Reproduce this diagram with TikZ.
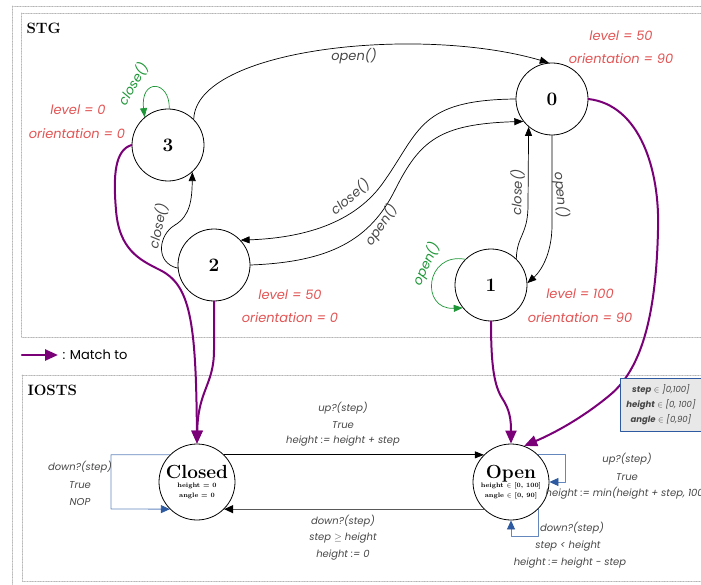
\documentclass[tikz,border=0pt]{standalone}
\usepackage{fontspec}
\setsansfont{Poppins}
\usetikzlibrary{arrows.meta,calc}
\definecolor{redlbl}{RGB}{226,84,84}
\definecolor{greenloop}{RGB}{30,150,55}
\definecolor{matchpurple}{RGB}{122,0,120}
\definecolor{loopline}{RGB}{100,135,190}
\definecolor{looptip}{RGB}{45,90,160}
\definecolor{txtgray}{RGB}{70,70,70}
\definecolor{boxgray}{RGB}{232,232,232}

\begin{document}
\begin{tikzpicture}[x=1pt,y=-1pt,line join=round,line cap=round,
	stgstate/.style={circle,draw,line width=0.8pt,minimum size=72pt,inner sep=0pt,font=\fontsize{19}{19}\selectfont\bfseries},
	iostate/.style={circle,draw,line width=0.8pt,minimum size=76pt,inner sep=0pt,align=center},
	trans/.style={line width=0.7pt,-{Triangle[length=9pt,width=7pt]}},
	match/.style={matchpurple,line width=2pt,-{Triangle[length=13pt,width=11pt]}},
	iloop/.style={loopline,line width=0.8pt,-{Triangle[length=9pt,width=8pt,color=looptip]}},
	act/.style={font=\sffamily\itshape\fontsize{13}{13}\selectfont,text=txtgray},
	varlbl/.style={font=\sffamily\itshape\fontsize{13}{13}\selectfont,text=redlbl},
	guard/.style={font=\sffamily\itshape\fontsize{10}{10}\selectfont,text=txtgray},
	boxframe/.style={gray!60,densely dotted,line width=0.6pt}]
	\path[use as bounding box,clip] (0,0) rectangle (701,585);
	% frames
	\draw[boxframe] (12,6) rectangle (720,600);
	\draw[boxframe] (21,13) rectangle (720,337);
	\draw[boxframe] (22,375) rectangle (720,581);
	\node[anchor=west,font=\fontsize{15}{15}\selectfont\bfseries] (stg) at (23,28) {STG};
	\node[anchor=west,font=\fontsize{15}{15}\selectfont\bfseries] (iosts) at (24,390) {IOSTS};
	% STG states
	\node[stgstate] (n0) at (552,99) {0};
	\node[stgstate] (n1) at (491,285) {1};
	\node[stgstate] (n2) at (214,265) {2};
	\node[stgstate] (n3) at (168,145) {3};
	\foreach \n/\x/\y/\t in {a/78/110/{level = 0},b/77/134/{orientation = 0},c/621/36/{level = 50},d/621/59/{orientation = 90},e/290/295/{level = 50},f/290/318/{orientation = 0},g/580/294/{level = 100},h/580/318/{orientation = 90}}{\node[varlbl] (v\n) at (\x,\y) {\t};}
	% STG transitions
	\draw[trans] (n3.45) .. controls (196,48) and (420,25) .. (n0.95);
	\node[act] (t30) at (354,56) {open()};
	\draw[trans,greenloop] (n3.88) .. controls (170,80) and (140,78) .. (n3.130);
	\node[act,text=greenloop,rotate=60] (t33) at (133,84) {close()};
	\draw[trans] (n2.185) .. controls (155,263) and (158,235) .. (175,225) .. controls (190,216) and (192,200) .. (n3.-48);
	\node[act,rotate=78] (t23) at (158,226) {close()};
	\draw[trans] (n0.180) .. controls (420,100) and (420,130) .. (385,180) .. controls (355,225) and (300,238) .. (n2.43);
	\node[act,rotate=40] (t02) at (350,197) {close()};
	\draw[trans] (n2.0) .. controls (330,262) and (370,240) .. (395,190) .. controls (420,140) and (440,124) .. (n0.218);
	\node[act,rotate=55] (t20) at (381,225) {open()};
	\draw[trans] (n1.46) .. controls (517,235) and (528,235) .. (528,205) -- (n0.230);
	\node[act,rotate=88] (t10) at (517,192) {close()};
	\draw[trans] (n0.-90) -- (552,225) .. controls (552,255) and (540,272) .. (n1.3);
	\node[act,rotate=-85] (t01) at (561,195) {open()};
	\draw[trans,greenloop] (n1.135) .. controls (425,252) and (420,310) .. (n1.219);
	\node[act,text=greenloop,rotate=65] (t11) at (426,264) {open()};
	% IOSTS states
	\node[iostate] (closed) at (197,482) {{\fontsize{19}{19}\selectfont\bfseries Closed}\\[-3pt]{\fontsize{6.5}{7}\selectfont\bfseries height = 0}\\[-2pt]{\fontsize{6.5}{7}\selectfont\bfseries angle = 0}};
	\node[iostate] (open) at (511,482) {{\fontsize{19}{19}\selectfont\bfseries Open}\\[-3pt]{\fontsize{6.5}{7}\selectfont\bfseries height $\in$ [0, 100]}\\[-2pt]{\fontsize{6.5}{7}\selectfont\bfseries angle $\in$ [0, 90]}};
	% match arrows
	\draw[match] (n3.180) .. controls (115,150) and (113,175) .. (116,210) .. controls (119,250) and (140,260) .. (160,270) .. controls (190,285) and (196,320) .. (closed.north);
	\draw[match] (n2.-90) -- (214,350) .. controls (214,385) and (198,390) .. (closed.north);
	\draw[match] (n1.-90) .. controls (491,365) and (494,385) .. (502,398) .. controls (510,410) and (511,420) .. (open.north);
	\draw[match] (n0.0) .. controls (640,105) and (660,170) .. (658,230) .. controls (656,320) and (640,370) .. (610,395) .. controls (580,420) and (550,435) .. (open.70);
	\coordinate (lg1) at (22,355);
	\coordinate (lg2) at (58,355);
	\draw[match,line width=2.5pt] (lg1) -- (lg2);
	\node[anchor=west,font=\sffamily\fontsize{13}{13}\selectfont] (lgtxt) at (59,355) {: Match to};
	% IOSTS transitions
	\draw[trans] (closed.45) -- (open.135);
	\draw[trans,draw=black!65,line width=1.2pt,-{Triangle[length=9pt,width=8pt,color=black]}] (open.-135) -- (closed.-45);
	\draw[iloop] (closed.135) -| (111,509) -- (closed.-135);
	\draw[iloop] (open.45) -| (565,482) -- (open.east);
	\draw[iloop] (open.-45) |- (511,536) -- (open.south);
	\foreach \n/\x/\y/\t in {a/343/408/{up?(step)},b/343/425/{True},c/343/441/{height := height + step},d/343/521/{down?(step)},e/343/538/{step $\geq$ height},f/343/555/{height := 0},g/80/467/{down?(step)},h/80/485/{True},i/80/502/{NOP},j/627/459/{up?(step)},k/627/477/{True},l/627/493/{height := min(height + step, 100)},m/572/528/{down?(step)},n/568/546/{step < height},o/570/563/{height := height - step}}{\node[guard] (g\n) at (\x,\y) {\t};}
	% domains
	\node[draw=looptip,fill=boxgray,line width=0.8pt,minimum width=95pt,minimum height=53pt,anchor=north west] (dom) at (620,378) {};
	\node[font=\sffamily\itshape\fontsize{8.5}{15}\selectfont,text=txtgray,align=center] (domtxt) at (661,405) {\textbf{step} $\in$ ]0,100]\\\textbf{height} $\in$ [0, 100]\\\textbf{angle} $\in$ [0,90]};
\end{tikzpicture}
\end{document}
